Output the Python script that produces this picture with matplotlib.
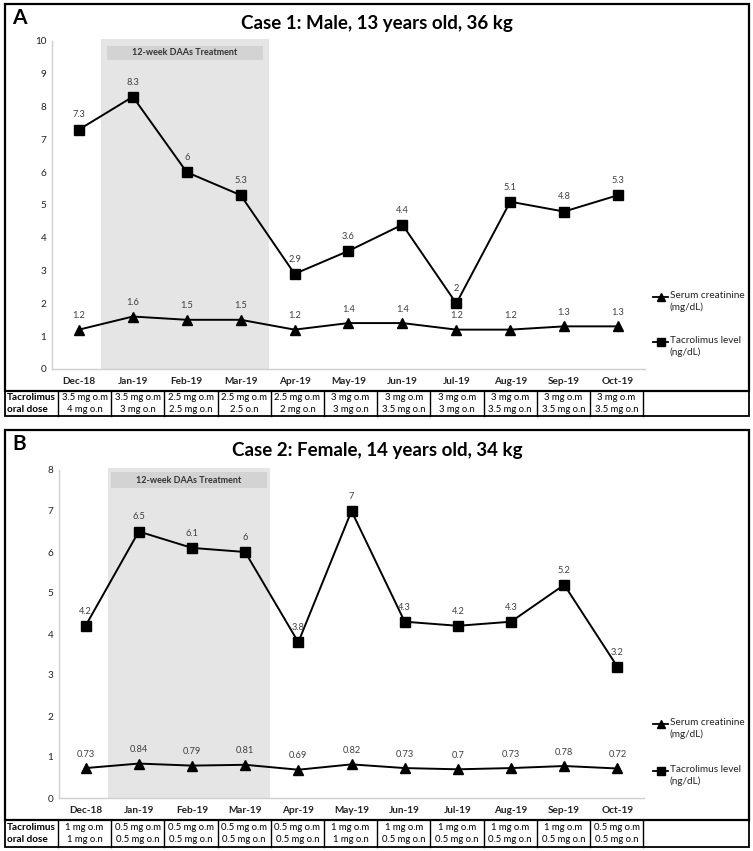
import matplotlib
matplotlib.use('Agg')
import matplotlib.pyplot as plt
from matplotlib.patches import Rectangle
from matplotlib.lines import Line2D

W, H = 753, 851

months = ['Dec-18', 'Jan-19', 'Feb-19', 'Mar-19', 'Apr-19', 'May-19',
          'Jun-19', 'Jul-19', 'Aug-19', 'Sep-19', 'Oct-19']

case1_creat = [1.2, 1.6, 1.5, 1.5, 1.2, 1.4, 1.4, 1.2, 1.2, 1.3, 1.3]
case1_tac = [7.3, 8.3, 6, 5.3, 2.9, 3.6, 4.4, 2, 5.1, 4.8, 5.3]
case1_dose_om = ['3.5 mg o.m', '3.5 mg o.m', '2.5 mg o.m', '2.5 mg o.m', '2.5 mg o.m',
                 '3 mg o.m', '3 mg o.m', '3 mg o.m', '3 mg o.m', '3 mg o.m', '3 mg o.m']
case1_dose_on = ['4 mg o.n', '3 mg o.n', '2.5 mg o.n', '2.5 o.n', '2 mg o.n', '3 mg o.n',
                 '3.5 mg o.n', '3 mg o.n', '3.5 mg o.n', '3.5 mg o.n', '3.5 mg o.n']

case2_creat = [0.73, 0.84, 0.79, 0.81, 0.69, 0.82, 0.73, 0.7, 0.73, 0.78, 0.72]
case2_tac = [4.2, 6.5, 6.1, 6, 3.8, 7, 4.3, 4.2, 4.3, 5.2, 3.2]
case2_dose_om = ['1 mg o.m', '0.5 mg o.m', '0.5 mg o.m', '0.5 mg o.m', '0.5 mg o.m',
                 '1 mg o.m', '1 mg o.m', '1 mg o.m', '1 mg o.m', '1 mg o.m', '0.5 mg o.m']
case2_dose_on = ['1 mg o.n', '0.5 mg o.n', '0.5 mg o.n', '0.5 mg o.n', '0.5 mg o.n',
                 '1 mg o.n', '0.5 mg o.n', '0.5 mg o.n', '0.5 mg o.n', '0.5 mg o.n', '0.5 mg o.n']

titles = ['Case 1: Male, 13 years old, 36 kg', 'Case 2: Female, 14 years old, 34 kg']
letters = ['A', 'B']
legend_labels = ['Serum creatinine\n(mg/dL)', 'Tacrolimus level\n(ng/dL)']
treatment_label = '12-week DAAs Treatment'
dose_header = 'Tacrolimus\noral dose'
ymaxes = [10, 8]

FONT = 'Lato'
plt.rcParams['font.family'] = [FONT, 'DejaVu Sans']

fig = plt.figure(figsize=(W / 100, H / 100), dpi=100)


def rect_px(l, t, r, b, **kw):
    fig.patches.append(Rectangle((l / W, 1 - b / H), (r - l) / W, (b - t) / H,
                                 transform=fig.transFigure, figure=fig, **kw))


def line_px(xs, ys, **kw):
    fig.add_artist(Line2D([x / W for x in xs], [1 - y / H for y in ys],
                          transform=fig.transFigure, **kw))


def text_px(x, y, s, **kw):
    fig.text(x / W, 1 - y / H, s, **kw)


def panel(idx, creat, tac, dose_om, dose_on, geo):
    ax_l, ax_r, ax_t, ax_b = geo['ax']
    box_t, box_b = geo['box']
    tab_t, tab_b = geo['tab']
    ymax = ymaxes[idx]

    # panel frame
    rect_px(5, box_t, 749, box_b, fill=False, lw=1.6, ec='black', zorder=5)
    # letter & title
    text_px(12, box_t + 14, letters[idx], fontsize=15, fontweight='bold', va='center', ha='left')
    text_px(377, box_t + 20, titles[idx], fontsize=13.5, fontweight='bold', va='center', ha='center')

    ax = fig.add_axes([ax_l / W, 1 - ax_b / H, (ax_r - ax_l) / W, (ax_b - ax_t) / H])
    x = list(range(len(months)))
    ax.set_xlim(-0.5, len(months) - 0.5)
    ax.set_ylim(0, ymax)
    ax.axvspan(geo['shade'][0], geo['shade'][1], ymin=0, ymax=1.005, color='#e5e5e5', zorder=0, lw=0,
               clip_on=False)
    lb = geo['label']
    ax.add_patch(Rectangle((geo['lbx'][0], lb[0]), geo['lbx'][1] - geo['lbx'][0], lb[1] - lb[0],
                           color='#d3d3d3', lw=0, zorder=1))
    ax.text((geo['lbx'][0] + geo['lbx'][1]) / 2, (lb[0] + lb[1]) / 2, treatment_label,
            fontsize=6.5, fontweight='bold', ha='center', va='center', color='#333333', zorder=2)

    ax.plot(x, creat, color='black', lw=1.4, marker='^', ms=7.5, zorder=3, clip_on=False)
    ax.plot(x, tac, color='black', lw=1.4, marker='s', ms=7, zorder=3, clip_on=False)
    for xi, v in zip(x, creat):
        ax.annotate(f'{v:g}', (xi, v), xytext=(0, 10), textcoords='offset points',
                    ha='center', va='center', fontsize=6.7, color='#404040')
    for xi, v in zip(x, tac):
        ax.annotate(f'{v:g}', (xi, v), xytext=(0, 10.5), textcoords='offset points',
                    ha='center', va='center', fontsize=6.7, color='#404040')

    ax.set_xticks(x)
    ax.set_xticklabels(months, fontsize=7, fontweight='bold')
    ax.set_yticks(range(0, ymax + 1))
    ax.tick_params(axis='both', length=0, labelsize=7.2, colors='#222222')
    ax.tick_params(axis='x', pad=6)
    ax.tick_params(axis='y', pad=4)
    for s in ['top', 'right']:
        ax.spines[s].set_visible(False)
    for s in ['left', 'bottom']:
        ax.spines[s].set_color('#cfcfcf')
        ax.spines[s].set_linewidth(1)
    ax.set_facecolor('none')

    # legend (drawn manually to keep handles aligned with first line)
    for k, (ly, mk, ms) in enumerate(zip(geo['leg'], ['^', 's'], [6, 5.5])):
        line_px([653, 668], [ly, ly], color='black', lw=1.3)
        line_px([660.5], [ly], color='black', marker=mk, ms=ms, lw=0)
        text_px(670, ly - 6, legend_labels[k], fontsize=7.2, va='top', ha='left',
                color='#222222', linespacing=1.3)

    # dose table
    rect_px(5, tab_t, 749, tab_b, fill=False, lw=1.3, ec='black', zorder=5)
    bounds = [58 + 53.2 * k for k in range(12)]
    for bx in bounds:
        line_px([bx, bx], [tab_t, tab_b], color='black', lw=1)
    midy = (tab_t + tab_b) / 2
    text_px(7, midy, dose_header, fontsize=7.2, fontweight='bold', ha='left', va='center',
            linespacing=1.35)
    for k in range(len(months)):
        cx = (bounds[k] + bounds[k + 1]) / 2
        text_px(cx, midy, dose_om[k] + '\n' + dose_on[k], fontsize=6.8, ha='center',
                va='center', linespacing=1.35)
    return ax


geoA = dict(ax=(52, 645, 41, 369), box=(4, 391), tab=(391, 416), shade=(0.41, 3.52),
            label=(9.42, 9.85), lbx=(0.52, 3.41), leg=(297, 342))
geoB = dict(ax=(59, 644, 470, 798), box=(430, 820), tab=(820, 847), shade=(0.43, 3.46),
            label=(7.56, 7.95), lbx=(0.47, 3.41), leg=(724, 771))

panel(0, case1_creat, case1_tac, case1_dose_om, case1_dose_on, geoA)
panel(1, case2_creat, case2_tac, case2_dose_om, case2_dose_on, geoB)

fig.savefig('out.png', dpi=100, facecolor='white')
